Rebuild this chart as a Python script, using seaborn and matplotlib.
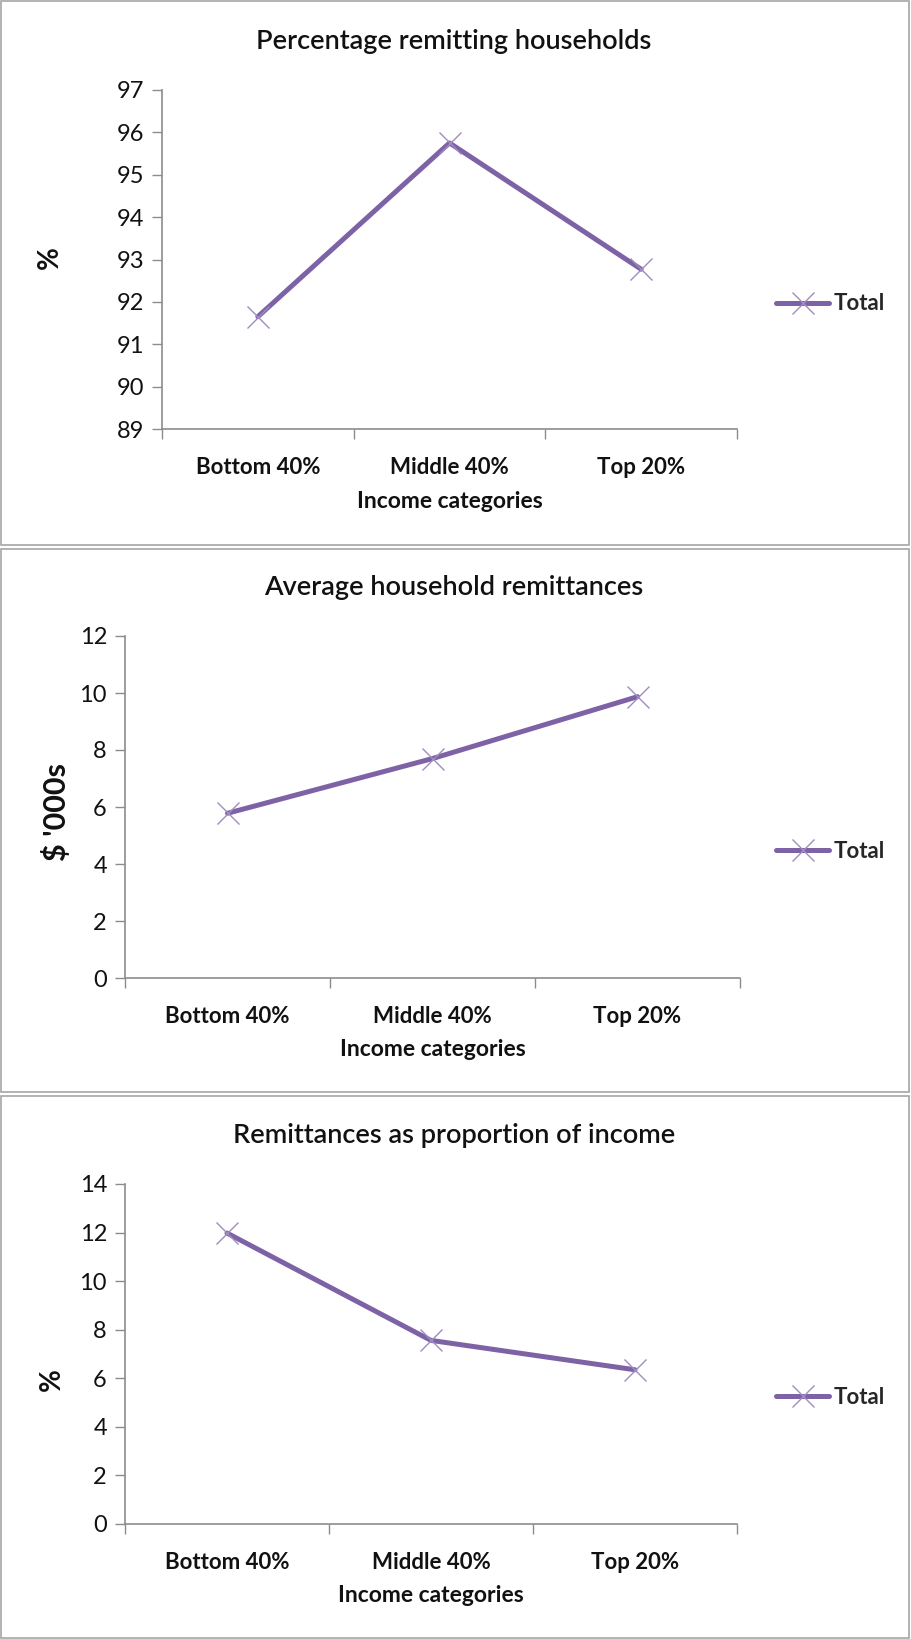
import matplotlib
matplotlib.use('Agg')
import matplotlib.pyplot as plt
from matplotlib.patches import Rectangle
import seaborn as sns
import pandas as pd

sns.set_style('white')
plt.rcParams['font.family'] = ['Lato', 'DejaVu Sans']

categories = ['Bottom 40%', 'Middle 40%', 'Top 20%']
pct_remitting = [91.65, 95.75, 92.77]
avg_remittances = [5.78, 7.7, 9.87]
pct_of_income = [11.98, 7.56, 6.35]

titles = ['Percentage remitting households', 'Average household remittances',
          'Remittances as proportion of income']
ylabels = ['%', "$ '000s", '%']
ylims = [(89, 97), (0, 12), (0, 14)]
xlabel = 'Income categories'

W, H = 911, 1639
line_col = '#7d63a6'
mark_col = '#a08cc0'
axis_col = '#8c8c8c'

fig = plt.figure(figsize=(W / 100, H / 100), dpi=100)

def fx(px):
    return px / W

def fy(py):
    return 1 - py / H

# panel boxes (top, bottom in pixels)
panels = [(1, 545), (549, 1092), (1096, 1638)]
for top, bot in panels:
    fig.add_artist(Rectangle((fx(1), fy(bot)), fx(908), (bot - top) / H,
                             transform=fig.transFigure, fill=False,
                             edgecolor='#a6a6a6', lw=1.2))

# axes rectangles: left, right, top, bottom in pixels
boxes = [(162, 737, 90, 429), (125, 740, 636, 978), (125, 737, 1184, 1524)]
title_y = [42, 588, 1136]
ylab_pos = [(50, 258), (56, 812), (52, 1380)]
ylab_size = [20, 22, 20]
legend_y = [304, 851, 1397]
series = [pct_remitting, avg_remittances, pct_of_income]

for i, vals in enumerate(series):
    l, r, t, b = boxes[i]
    ax = fig.add_axes([fx(l), fy(b), fx(r - l), (b - t) / H])
    df = pd.DataFrame({'cat': categories, 'val': vals})
    sns.lineplot(data=df, x='cat', y='val', ax=ax, color=line_col, lw=3.6,
                 marker='x', markersize=16, markeredgewidth=1.0,
                 markeredgecolor=mark_col, label='Total', sort=False)
    ax.set_xlim(-0.5, 2.5)
    ax.set_ylim(*ylims[i])
    step = 1 if i == 0 else 2
    ax.set_yticks(range(ylims[i][0], ylims[i][1] + 1, step))
    ax.set_xticks([0, 1, 2])
    ax.set_xticklabels(categories, fontsize=16, fontweight='bold', color='#111111')
    ax.set_xticks([-0.5, 0.5, 1.5, 2.5], minor=True)
    ax.tick_params(axis='x', which='major', length=0, pad=20)
    ax.tick_params(axis='x', which='minor', length=7, width=1, color=axis_col,
                   direction='out', bottom=True)
    ax.tick_params(axis='y', length=7, width=1, color=axis_col, direction='out',
                   left=True, labelsize=17, labelcolor='#111111', pad=6)
    for s in ['top', 'right']:
        ax.spines[s].set_visible(False)
    for s in ['left', 'bottom']:
        ax.spines[s].set_color(axis_col)
        ax.spines[s].set_linewidth(1.2)
    ax.set_xlabel('')
    ax.set_ylabel('')
    ax.get_legend().remove()

    fig.text(fx((l + r) / 2), fy(b + 72), xlabel, ha='center', va='center',
             fontsize=16.5, fontweight='bold', color='#111111')
    fig.text(0.498, fy(title_y[i]), titles[i], ha='center', va='center',
             fontsize=19.5, fontweight='semibold', color='#111111')
    fig.text(fx(ylab_pos[i][0]), fy(ylab_pos[i][1]), ylabels[i], ha='center',
             va='center', rotation=90, fontsize=ylab_size[i], fontweight='bold',
             color='#111111')
    h, lab = ax.get_legend_handles_labels()
    fig.legend(h, lab, loc='center left', bbox_to_anchor=(fx(776), fy(legend_y[i])),
               frameon=False, handlelength=2.4, handletextpad=0.2,
               borderaxespad=0, borderpad=0,
               prop={'size': 16, 'weight': 'bold'})

fig.savefig('out.png', dpi=100)
